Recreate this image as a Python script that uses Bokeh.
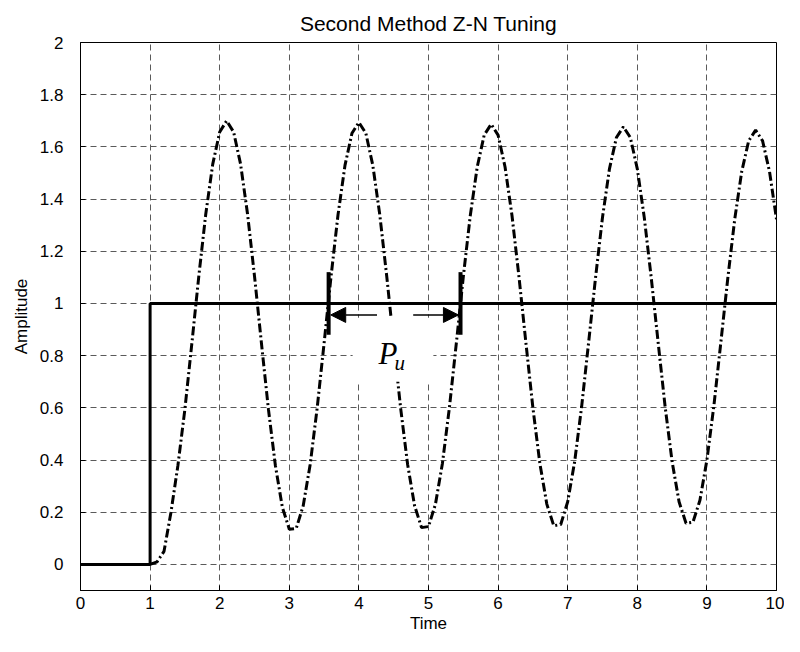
from bokeh.plotting import figure
from bokeh.models import Range1d, FixedTicker, Arrow, NormalHead, Label
from bokeh.embed import file_html
from bokeh.resources import INLINE

# ---- data ----
title_text = "Second Method Z-N Tuning"
x_ticks = [0, 1, 2, 3, 4, 5, 6, 7, 8, 9, 10]
x_tick_labels = ["0", "1", "2", "3", "4", "5", "6", "7", "8", "9", "10"]
y_ticks = [0, 0.2, 0.4, 0.6, 0.8, 1, 1.2, 1.4, 1.6, 1.8, 2]
y_tick_labels = ["0", "0.2", "0.4", "0.6", "0.8", "1", "1.2", "1.4", "1.6", "1.8", "2"]

# step input (solid)
step_t = [0, 1, 1, 10]
step_y = [0, 0, 1, 1]

# closed-loop response at ultimate gain (dash-dot), sampled every 0.1 s from t = 1.0
resp_t = [round(1.0 + 0.1 * i, 1) for i in range(91)]
resp_y = [
    0.00, 0.01, 0.05, 0.20, 0.38, 0.595, 0.847, 1.105, 1.343, 1.534,
    1.657, 1.700, 1.657, 1.534, 1.343, 1.105, 0.847, 0.595, 0.379, 0.219,
    0.135, 0.138, 0.225, 0.383, 0.598, 0.848, 1.104, 1.340, 1.529, 1.652,
    1.694, 1.652, 1.529, 1.340, 1.104, 0.848, 0.598, 0.383, 0.225, 0.141,
    0.145, 0.231, 0.387, 0.600, 0.848, 1.102, 1.336, 1.523, 1.645, 1.687,
    1.645, 1.523, 1.336, 1.102, 0.848, 0.600, 0.387, 0.231, 0.148, 0.153,
    0.240, 0.394, 0.604, 0.849, 1.099, 1.330, 1.516, 1.636, 1.677, 1.636,
    1.516, 1.330, 1.099, 0.849, 0.604, 0.394, 0.240, 0.158, 0.162, 0.246,
    0.400, 0.607, 0.850, 1.096, 1.323, 1.505, 1.623, 1.664, 1.623, 1.505,
    1.323,
]

# ultimate-period annotation
pu_marks_t = [3.565, 5.46]
pu_mark_lo, pu_mark_hi = 0.88, 1.12
pu_arrow_y = 0.956

FONT = "Liberation Sans"

p = figure(width=784, height=636, output_backend="svg", toolbar_location=None,
           x_range=Range1d(0, 10), y_range=Range1d(-0.1, 2),
           title=title_text,
           min_border_left=80, min_border_right=8, min_border_top=42, min_border_bottom=46)
p.title.align = "center"
p.title.text_font = FONT
p.title.text_font_size = "21px"
p.title.text_font_style = "normal"
p.title.text_color = "black"
p.title.standoff = 15

p.outline_line_color = "black"
p.outline_line_width = 1
p.background_fill_color = "white"
p.border_fill_color = "white"

lbl = {v: s for v, s in zip(x_ticks, x_tick_labels)}
ylbl = {v: s for v, s in zip(y_ticks, y_tick_labels)}

for ax, ticks, labels in ((p.xaxis[0], x_ticks, lbl), (p.yaxis[0], y_ticks, ylbl)):
    ax.ticker = FixedTicker(ticks=ticks)
    ax.major_label_overrides = labels
    ax.major_label_text_font = FONT
    ax.major_label_text_font_size = "17px"
    ax.major_label_text_color = "black"
    ax.axis_label_text_font = FONT
    ax.axis_label_text_font_size = "17px"
    ax.axis_label_text_font_style = "normal"
    ax.axis_label_text_color = "black"
    ax.major_tick_in = 5
    ax.major_tick_out = 0
    ax.minor_tick_line_color = None
    ax.axis_line_color = "black"
    ax.major_tick_line_color = "black"

p.xaxis.axis_label = "Time"
p.yaxis.axis_label = "Amplitude"
p.xaxis.major_label_standoff = 6
p.xaxis.axis_label_standoff = 2
p.yaxis.major_label_standoff = 17
p.yaxis.axis_label_standoff = 6

p.xgrid.ticker = FixedTicker(ticks=x_ticks)
p.ygrid.ticker = FixedTicker(ticks=y_ticks)
p.grid.grid_line_color = "#5a5a5a"
p.grid.grid_line_dash = "6 4"
p.grid.grid_line_width = 1

# curves
p.line(step_t, step_y, line_color="black", line_width=3)
p.line(resp_t, resp_y, line_color="black", line_width=3, line_dash="9 3 2 3")

# white box behind the P_u label
p.quad(left=[3.91], right=[5.07], bottom=[0.70], top=[0.945], fill_color="white", line_color=None)

# period marks and arrows
p.segment(x0=pu_marks_t, y0=[pu_mark_lo] * 2, x1=pu_marks_t, y1=[pu_mark_hi] * 2,
          line_color="black", line_width=4)
p.add_layout(Arrow(end=NormalHead(size=15, fill_color="black", line_color="black"),
                   x_start=4.26, y_start=pu_arrow_y, x_end=pu_marks_t[0] + 0.03, y_end=pu_arrow_y,
                   line_width=1.5, line_color="black"))
p.add_layout(Arrow(end=NormalHead(size=15, fill_color="black", line_color="black"),
                   x_start=4.78, y_start=pu_arrow_y, x_end=pu_marks_t[1] - 0.03, y_end=pu_arrow_y,
                   line_width=1.5, line_color="black"))

p.add_layout(Label(x=4.28, y=0.81, text="P", text_font="Liberation Serif", text_font_style="italic",
                   text_font_size="31px", text_color="black", text_baseline="alphabetic"))
p.add_layout(Label(x=4.51, y=0.77, text="u", text_font="Liberation Serif", text_font_style="italic",
                   text_font_size="21px", text_color="black", text_baseline="alphabetic"))

open("out.html", "w").write(file_html(p, INLINE))
